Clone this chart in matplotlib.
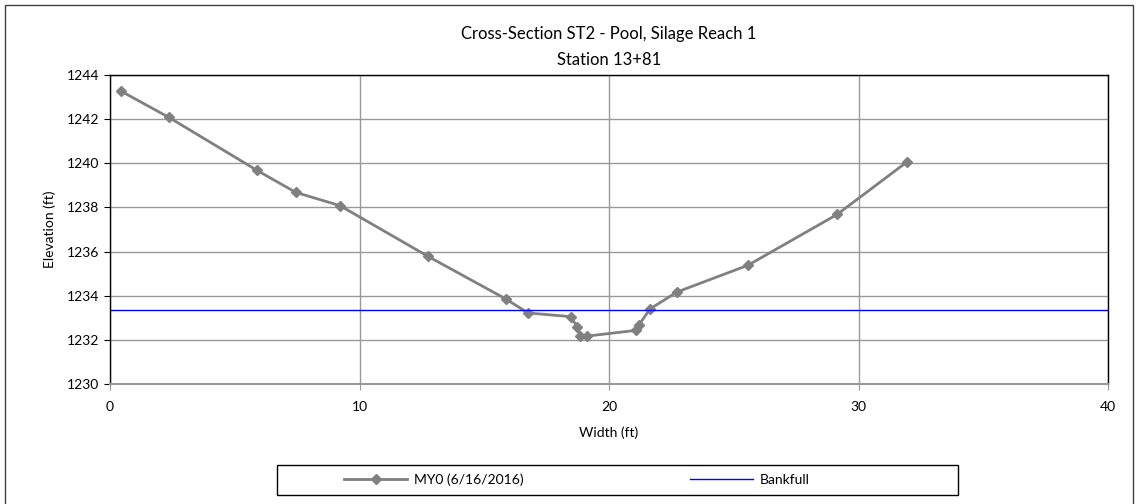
import matplotlib
matplotlib.use("Agg")
import matplotlib.pyplot as plt
from matplotlib.patches import Rectangle

plt.rcParams['font.family'] = ['Lato', 'DejaVu Sans']

# Tverrsnitt ST2 - lest av figuren
bredde = [0.44, 2.36, 5.89, 7.45, 9.22, 12.75, 15.87, 16.75, 18.48, 18.72, 18.84,
          19.12, 21.08, 21.2, 21.64, 22.73, 25.57, 29.14, 31.94]
hoyde = [1243.27, 1242.08, 1239.68, 1238.68, 1238.08, 1235.78, 1233.85, 1233.22,
         1233.05, 1232.58, 1232.17, 1232.17, 1232.43, 1232.67, 1233.4, 1234.17,
         1235.38, 1237.68, 1240.06]
bankfull_hoyde = 1233.35
bankfull_x = [0, 40]

fig = plt.figure(figsize=(11.41, 5.04), dpi=100)
# ramme rundt hele diagrammet
fig.patches.append(Rectangle((5/1141, -0.05), 1128/1141, 1.04, transform=fig.transFigure,
                             fill=False, edgecolor="#404040", linewidth=1.0))
# ramme rundt legenden
fig.patches.append(Rectangle((277/1141, 1 - 495/504), 681/1141, 30/504, transform=fig.transFigure,
                             fill=False, edgecolor="#000000", linewidth=1.0))

ax = fig.add_axes([110/1141, 1 - 384/504, 998/1141, 309/504])
ax.plot(bredde, hoyde, color="#808080", linewidth=2, marker="D", markersize=5,
        label="MY0 (6/16/2016)")
ax.plot(bankfull_x, [bankfull_hoyde, bankfull_hoyde], color="#0000ff", linewidth=1,
        label="Bankfull")

ax.set_xlim(0, 40)
ax.set_ylim(1230, 1244)
ax.set_xticks(range(0, 41, 10))
ax.set_yticks(range(1230, 1245, 2))
ax.grid(True, color="#999999", linewidth=1)
ax.set_axisbelow(True)
for s in ax.spines.values():
    s.set_color("#000000")
    s.set_linewidth(1)
ax.spines['bottom'].set_color("#999999")
ax.spines['bottom'].set_linewidth(1.5)
ax.tick_params(axis="y", length=4, labelsize=10, direction="out")
ax.tick_params(axis="x", length=4, labelsize=10, direction="out", color="#999999", pad=8)

ax.set_xlabel("Width (ft)", fontsize=10, labelpad=10)
ax.set_ylabel("Elevation (ft)", fontsize=10, labelpad=8)
fig.text(609/1141, 1 - 34/504, "Cross-Section ST2 - Pool, Silage Reach 1", ha="center",
         va="center", fontsize=12)
fig.text(609/1141, 1 - 60/504, "Station 13+81", ha="center", va="center", fontsize=12)

leg = fig.legend(loc="center", bbox_to_anchor=(577/1141, 1 - 480/504), ncol=2,
                 frameon=False, fontsize=10, columnspacing=12, handlelength=4.5,
                 handletextpad=0.5)

fig.savefig("out.png", dpi=100)
